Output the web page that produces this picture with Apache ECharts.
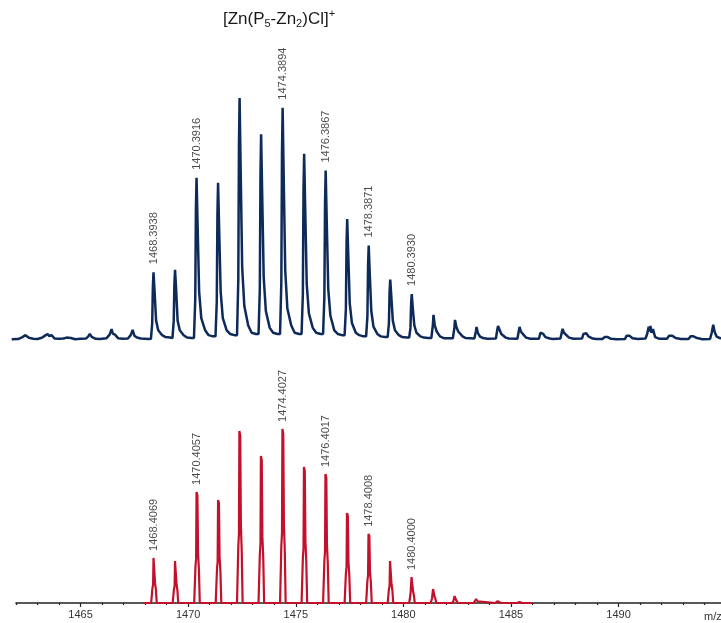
<!DOCTYPE html>
<html>
<head>
<meta charset="utf-8">
<script src="https://cdn.jsdelivr.net/npm/echarts@6/dist/echarts.min.js"></script>
<style>
html,body{margin:0;padding:0;background:#fff;}
#chart{width:721px;height:623px;}
</style>
</head>
<body>
<div id="chart"></div>
<script>
// Experimental spectrum profile [m/z, relative intensity]
const expProfile = [
[1461.8,0.3],[1462.1,0.4],[1462.3,1.2],[1462.44,2.0],[1462.6,0.9],[1462.8,0.5],[1463.0,0.4],[1463.2,0.9],[1463.35,1.8],[1463.47,2.5],[1463.55,1.6],[1463.65,2.0],[1463.8,0.6],[1464.0,0.5],[1464.2,0.6],[1464.35,1.0],[1464.44,1.4],[1464.55,0.8],[1464.75,0.3],[1465.0,0.5],[1465.25,0.6],[1465.36,1.5],[1465.43,2.5],[1465.52,1.3],[1465.7,0.5],[1465.9,0.4],[1466.2,0.7],[1466.35,2.2],[1466.44,4.5],[1466.5,2.6],[1466.6,2.2],[1466.75,0.7],[1466.95,0.5],[1467.2,0.6],[1467.33,2.0],[1467.42,4.2],[1467.5,1.8],[1467.62,1.0],[1467.8,0.6],[1468.0,0.5],[1468.15,0.4],
[1468.27,0.5],[1468.33,7],[1468.36,22],[1468.39,28],[1468.44,20],[1468.51,8],[1468.61,4],[1468.79,2],[1468.95,1.2],[1469.15,1.0],
[1469.27,0.8],[1469.33,8],[1469.36,23],[1469.39,29],[1469.44,21],[1469.51,8],[1469.61,4],[1469.79,2],[1469.95,1.0],[1470.15,0.8],
[1470.27,0.8],[1470.33,17],[1470.36,54],[1470.39,67],[1470.44,47],[1470.51,20],[1470.61,9],[1470.79,4],[1470.95,2],[1471.15,1.5],
[1471.27,1.5],[1471.33,16],[1471.36,52],[1471.39,65],[1471.44,46],[1471.51,20],[1471.61,9],[1471.79,4],[1471.95,2.5],[1472.15,2],
[1472.27,2],[1472.33,25],[1472.36,80],[1472.39,100],[1472.44,70],[1472.51,30],[1472.61,14],[1472.79,6],[1472.95,3],[1473.15,2.5],
[1473.27,2.5],[1473.33,21],[1473.36,68],[1473.39,85],[1473.44,60],[1473.51,26],[1473.61,12],[1473.79,5],[1473.95,3],[1474.15,2.5],
[1474.27,2.5],[1474.33,24],[1474.36,77],[1474.39,96],[1474.44,67],[1474.51,29],[1474.61,13],[1474.79,6],[1474.95,3],[1475.15,2.5],
[1475.27,2.5],[1475.33,19],[1475.36,62],[1475.39,77],[1475.44,54],[1475.51,23],[1475.61,11],[1475.79,5],[1475.95,3],[1476.15,2.5],
[1476.27,2.5],[1476.33,18],[1476.36,56],[1476.39,70],[1476.44,49],[1476.51,21],[1476.61,10],[1476.79,4],[1476.95,2.5],[1477.15,2],
[1477.27,2],[1477.33,13],[1477.36,40],[1477.39,50],[1477.44,35],[1477.51,15],[1477.61,7],[1477.79,3],[1477.95,2],[1478.15,1.5],
[1478.27,1.5],[1478.33,10],[1478.36,31],[1478.39,39],[1478.44,27],[1478.51,12],[1478.61,5.5],[1478.79,2.5],[1478.95,1.5],[1479.15,1.2],
[1479.27,1.2],[1479.33,7],[1479.36,20],[1479.39,25],[1479.44,18],[1479.51,8],[1479.61,4],[1479.79,2],[1479.95,1.2],[1480.15,1],
[1480.27,1],[1480.33,5],[1480.36,15],[1480.39,19],[1480.44,13],[1480.51,6],[1480.61,3],[1480.79,1.5],[1480.95,1],[1481.15,0.8],
[1481.3,0.8],[1481.37,6],[1481.40,10.4],[1481.46,6],[1481.55,3.5],[1481.7,1.5],[1481.9,0.7],
[1482.3,0.7],[1482.37,5],[1482.40,8.3],[1482.46,5.5],[1482.55,3.5],[1482.62,3.8],[1482.75,1.5],[1482.9,0.8],
[1483.3,0.6],[1483.37,3.5],[1483.40,5.4],[1483.46,3],[1483.55,1.5],[1483.7,0.8],[1483.9,0.5],
[1484.3,0.6],[1484.37,4.5],[1484.40,5.8],[1484.46,5.2],[1484.55,2.5],[1484.62,3],[1484.75,1],[1484.9,0.6],
[1485.3,0.5],[1485.37,4],[1485.40,5.4],[1485.46,3.5],[1485.55,2.5],[1485.7,1],[1485.9,0.5],
[1486.3,0.5],[1486.37,3],[1486.42,3.8],[1486.5,2.5],[1486.6,1.2],[1486.8,0.6],[1486.95,0.4],
[1487.3,0.6],[1487.37,3.5],[1487.40,4.6],[1487.46,3],[1487.55,2.2],[1487.7,1],[1487.9,0.5],
[1488.3,0.6],[1488.37,2.5],[1488.42,3.3],[1488.5,2.8],[1488.6,1.5],[1488.8,0.6],[1488.95,0.4],
[1489.25,0.4],[1489.35,1.2],[1489.42,1.7],[1489.5,1.2],[1489.65,0.5],[1489.9,0.3],
[1490.3,0.4],[1490.37,1.8],[1490.42,2.5],[1490.5,1.8],[1490.65,0.7],[1490.9,0.4],
[1491.25,0.6],[1491.33,2.5],[1491.40,5.5],[1491.44,3.5],[1491.48,5.8],[1491.53,3],[1491.6,4.5],[1491.7,1.2],[1491.9,0.5],
[1492.25,0.5],[1492.35,1.8],[1492.42,2.5],[1492.5,1.8],[1492.65,0.8],[1492.9,0.4],
[1493.25,0.4],[1493.35,1.5],[1493.42,2.1],[1493.48,1.5],[1493.55,2],[1493.65,0.8],[1493.9,0.3],
[1494.25,0.4],[1494.33,3],[1494.40,6.3],[1494.46,3.5],[1494.55,1.5],[1494.7,0.8],[1494.9,0.5]
];

// Simulated isotope pattern profile [m/z, relative intensity]
const simProfile = [
[1467.9,0],
[1468.28,0],[1468.34,8.5],[1468.37,10.4],[1468.39,25.9],[1468.43,25.1],[1468.46,11.7],[1468.50,7.8],[1468.54,0],
[1469.28,0],[1469.34,8.0],[1469.37,9.6],[1469.39,24.1],[1469.43,23.4],[1469.46,10.8],[1469.50,7.2],[1469.54,0],
[1470.28,0],[1470.34,21.1],[1470.37,25.5],[1470.39,63.8],[1470.43,61.9],[1470.46,28.7],[1470.50,19.1],[1470.54,0],
[1471.28,0],[1471.34,19.5],[1471.37,23.7],[1471.39,59.2],[1471.43,57.4],[1471.46,26.6],[1471.50,17.8],[1471.54,0],
[1472.27,0],[1472.33,32.6],[1472.36,39.6],[1472.38,98.9],[1472.42,95.9],[1472.45,44.5],[1472.49,29.7],[1472.53,0],
[1473.27,0],[1473.33,27.9],[1473.36,33.8],[1473.38,84.5],[1473.42,82.0],[1473.45,38.0],[1473.49,25.4],[1473.53,0],
[1474.27,0],[1474.33,33],[1474.36,40],[1474.38,100],[1474.42,97],[1474.45,45],[1474.49,30],[1474.53,0],
[1475.27,0],[1475.33,25.8],[1475.36,31.3],[1475.38,78.2],[1475.42,75.9],[1475.45,35.2],[1475.49,23.5],[1475.53,0],
[1476.27,0],[1476.33,24.5],[1476.36,29.6],[1476.38,74.1],[1476.42,71.9],[1476.45,33.3],[1476.49,22.2],[1476.53,0],
[1477.27,0],[1477.33,17.1],[1477.36,20.7],[1477.38,51.7],[1477.42,50.1],[1477.45,23.3],[1477.49,15.5],[1477.53,0],
[1478.27,0],[1478.33,13.1],[1478.36,15.9],[1478.38,39.7],[1478.42,38.5],[1478.45,17.9],[1478.49,11.9],[1478.53,0],
[1479.27,0],[1479.33,8.0],[1479.36,9.6],[1479.38,24.1],[1479.42,23.4],[1479.45,10.8],[1479.49,7.2],[1479.53,0],
[1480.27,0],[1480.33,4.9],[1480.36,6.0],[1480.38,14.9],[1480.42,14.5],[1480.45,6.7],[1480.49,4.5],[1480.53,0],
[1481.27,0],[1481.33,2.6],[1481.36,3.2],[1481.38,8.0],[1481.42,7.8],[1481.45,3.6],[1481.49,2.4],[1481.53,0],
[1482.27,0],[1482.33,1.3],[1482.36,1.6],[1482.38,4.0],[1482.42,3.9],[1482.45,1.8],[1482.49,1.2],[1482.53,0],
[1483.27,0],[1483.33,0.8],[1483.36,0.9],[1483.38,2.3],[1483.42,2.2],[1483.45,1.0],[1483.49,0.7],[1483.53,0],
[1484.27,0],[1484.35,0.4],[1484.38,1.1],[1484.42,1.0],[1484.47,0.4],[1484.53,0],
[1485.27,0],[1485.36,0.3],[1485.40,0.6],[1485.46,0.3],[1485.53,0],
[1486.0,0]
];

// Peak annotations
const expLabelMz = [1468.3938, 1470.3916, 1474.3894, 1476.3867, 1478.3871, 1480.3930];
const expLabelIntensity = [28, 67, 96, 70, 39, 19];
const simLabelMz = [1468.4069, 1470.4057, 1474.4027, 1476.4017, 1478.4008, 1480.4000];
const simLabelIntensity = [25.9, 63.8, 100, 74.1, 39.7, 14.9];

// Axis tick labels
const xTickLabels = [1465, 1470, 1475, 1480, 1485, 1490];
const xAxisTitle = 'm/z';

const PX = 21.52; // pixels per m/z unit
const FONT = 'Liberation Sans, Arial, sans-serif';

const chart = echarts.init(document.getElementById('chart'), null, {renderer: 'canvas'});

const labelStyle = {
  show: true, position: 'top', rotate: 90, align: 'left', verticalAlign: 'middle',
  color: '#1a1a1a', fontSize: 11, fontFamily: FONT,
  formatter: p => p.value[0].toFixed(4)
};

const option = {
  animation: false,
  backgroundColor: '#ffffff',
  title: {
    text: '[Zn(P{sub|5}-Zn{sub|2})Cl]{sup|+}',
    left: 274, top: 4, textAlign: 'center',
    textStyle: {
      fontSize: 17, fontWeight: 'normal', color: '#1a1a1a', fontFamily: FONT,
      lineHeight: 20,
      rich: {
        sub: {fontSize: 11, lineHeight: 12, padding: [10, 0, 0, 0], fontFamily: FONT, color: '#1a1a1a'},
        sup: {fontSize: 11, lineHeight: 12, padding: [0, 0, 10, 0], fontFamily: FONT, color: '#1a1a1a'}
      }
    }
  },
  graphic: [{
    type: 'text', left: 704, top: 611,
    style: {text: xAxisTitle, fill: '#333', fontSize: 11, fontFamily: FONT}
  }],
  grid: [
    {left: 16 - 0.2 * PX, width: 33.2 * PX, top: 98, height: 102 * 2.42, containLabel: false, outerBoundsMode: 'none'},
    {left: 16, width: 33 * PX, top: 429, height: 174, containLabel: false, outerBoundsMode: 'none'},
    {left: 16 - 2 * PX, width: 35 * PX, top: 429, height: 174, containLabel: false, outerBoundsMode: 'none'}
  ],
  xAxis: [
    {gridIndex: 0, type: 'value', min: 1461.8, max: 1495, show: false},
    {gridIndex: 1, type: 'value', min: 1462, max: 1495, splitLine: {show: false},
      axisLine: {show: true, onZero: false, lineStyle: {color: '#222', width: 1.6}},
      axisTick: {show: false}, axisLabel: {show: false}},
    {gridIndex: 2, type: 'value', min: 1460, max: 1495, interval: 5, splitLine: {show: false},
      axisLine: {show: false, onZero: false},
      axisTick: {show: true, length: 4, lineStyle: {color: '#222', width: 1.2}},
      minorTick: {show: true, splitNumber: 5, length: 2, lineStyle: {color: '#222', width: 1.2}},
      minorSplitLine: {show: false},
      axisLabel: {show: true, margin: 6, color: '#333', fontSize: 11, fontFamily: FONT,
        showMinLabel: true, showMaxLabel: true,
        formatter: v => xTickLabels.indexOf(Math.round(v)) >= 0 ? String(Math.round(v)) : ''}}
  ],
  yAxis: [
    {gridIndex: 0, type: 'value', min: -2, max: 100, show: false},
    {gridIndex: 1, type: 'value', min: 0, max: 100, show: false},
    {gridIndex: 2, type: 'value', min: 0, max: 100, show: false}
  ],
  series: [
    {type: 'line', xAxisIndex: 0, yAxisIndex: 0, data: expProfile, showSymbol: false, symbol: 'none',
      lineStyle: {color: '#0e2a58', width: 2.5}, silent: true, z: 2},
    {type: 'line', xAxisIndex: 1, yAxisIndex: 1, data: simProfile, showSymbol: false, symbol: 'none',
      lineStyle: {color: '#c3102b', width: 2.2}, silent: true, z: 1},
    {type: 'scatter', xAxisIndex: 0, yAxisIndex: 0, symbolSize: 0.1, itemStyle: {color: 'rgba(0,0,0,0)'},
      data: expLabelMz.map((m, i) => [m, expLabelIntensity[i]]),
      label: Object.assign({distance: 8}, labelStyle), z: 5},
    {type: 'scatter', xAxisIndex: 1, yAxisIndex: 1, symbolSize: 0.1, itemStyle: {color: 'rgba(0,0,0,0)'},
      data: simLabelMz.map((m, i) => [m, simLabelIntensity[i]]),
      label: Object.assign({distance: 7}, labelStyle), z: 5}
  ]
};
chart.setOption(option);
</script>
</body>
</html>
